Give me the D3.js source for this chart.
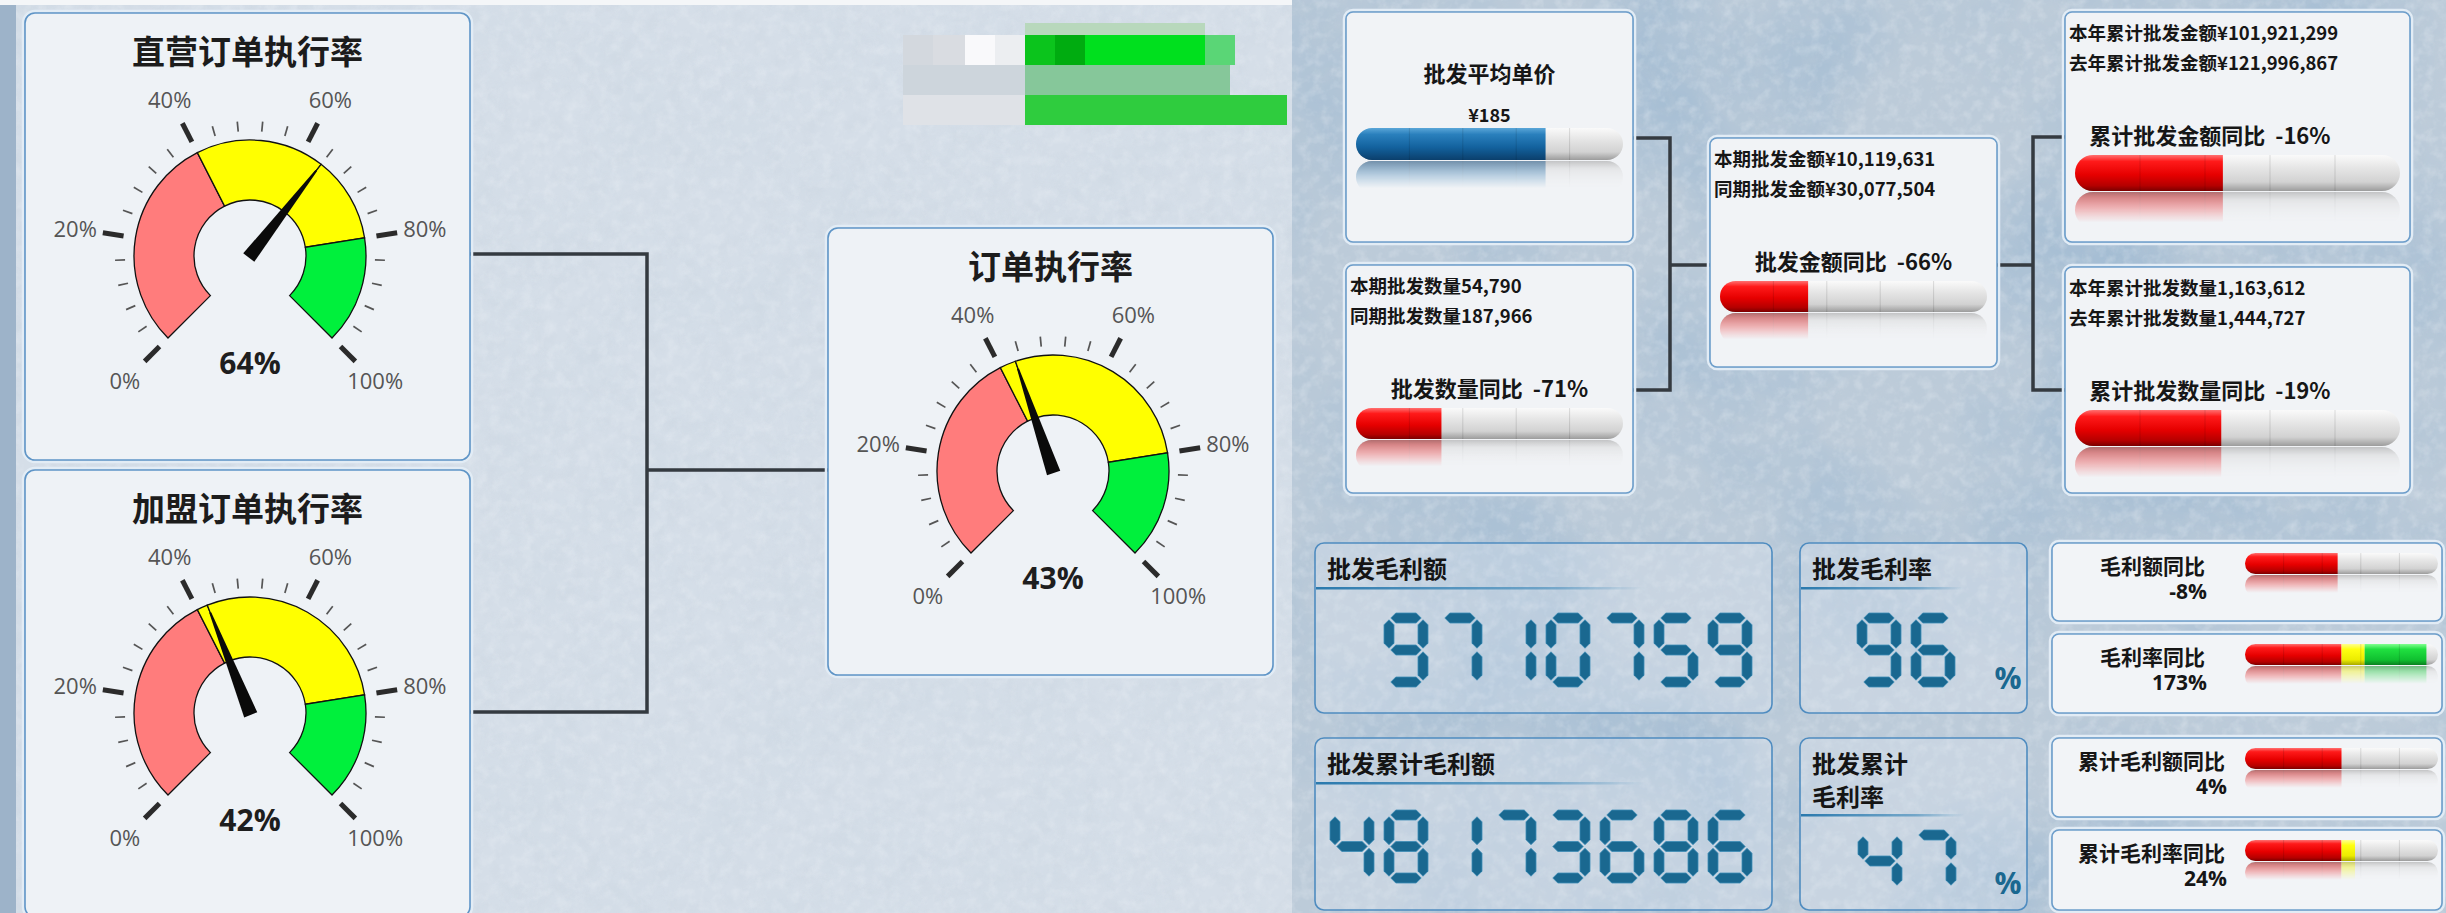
<!DOCTYPE html>
<meta charset="utf-8" />
<script src="https://d3js.org/d3.v7.min.js"></script>
<style>
  body { margin: 0; background: #cfd9e3; overflow: hidden; }
  svg { display: block; }
</style>
<div id="dash"></div>
<script>
  // ---- data ----
  const gaugeTitles = ["直营订单执行率", "加盟订单执行率", "订单执行率"];
  const gaugeValues = [64, 42, 43];
  const gaugeBands = [0, 40, 80, 100];
  const gaugeBandColors = ["#ff7c7c", "#ffff00", "#00f03c"];
  const gaugeTicks = [0, 20, 40, 60, 80, 100];

  const kpiTitles = ["批发平均单价", "批发数量同比", "批发金额同比", "累计批发金额同比", "累计批发数量同比"];
  const kpiValues = ["¥185", "-71%", "-66%", "-16%", "-19%"];
  const kpiLines = [
    [],
    ["本期批发数量54,790", "同期批发数量187,966"],
    ["本期批发金额¥10,119,631", "同期批发金额¥30,077,504"],
    ["本年累计批发金额¥101,921,299", "去年累计批发金额¥121,996,867"],
    ["本年累计批发数量1,163,612", "去年累计批发数量1,444,727"]
  ];
  const kpiBarLevels = [0.71, 0.32, 0.33, 0.455, 0.45];

  const lcdTitles = [["批发毛利额"], ["批发毛利率"], ["批发累计毛利额"], ["批发累计", "毛利率"]];
  const lcdValues = [9710759, 96, 48173686, 47];
  const lcdUnits = ["", "%", "", "%"];

  const yoyLabels = ["毛利额同比", "毛利率同比", "累计毛利额同比", "累计毛利率同比"];
  const yoyValues = ["-8%", "173%", "4%", "24%"];
  const yoyBarLevels = [0.48, 0.94, 0.5, 0.57];
  const yoyBandStops = [0, 0.5, 0.62, 1];

  // ---- page ----
  const width = 2446, height = 913;
  const cjk = '"Noto Sans CJK SC", "Noto Sans", sans-serif';
  const latin = '"Open Sans", "Noto Sans", sans-serif';

  const svg = d3.select("#dash").append("svg")
    .attr("width", width).attr("height", height);
  const defs = svg.append("defs");

  // noise filters for the paper texture
  function noise(id, freq, oct, seed, rgb, a, b) {
    const f = defs.append("filter").attr("id", id)
      .attr("x", 0).attr("y", 0).attr("width", 1).attr("height", 1);
    f.append("feTurbulence").attr("type", "fractalNoise")
      .attr("baseFrequency", freq).attr("numOctaves", oct).attr("seed", seed);
    f.append("feColorMatrix").attr("type", "matrix")
      .attr("values", `0 0 0 0 ${rgb[0]} 0 0 0 0 ${rgb[1]} 0 0 0 0 ${rgb[2]} ${a} 0 0 0 ${b}`);
  }
  noise("nzCoarse", 0.005, 4, 7, [0.36, 0.5, 0.65], 2.0, -0.8);
  noise("nzMid", 0.012, 4, 11, [0.62, 0.7, 0.78], 1.6, -0.6);
  noise("nzFine", 0.09, 3, 2, [0.95, 0.97, 0.99], 1.8, -0.8);
  noise("nzFineDark", 0.06, 3, 5, [0.55, 0.62, 0.7], 1.6, -0.7);

  function grad(id, stops, vertical = true) {
    const lg = defs.append("linearGradient").attr("id", id)
      .attr("x1", 0).attr("y1", 0).attr("x2", vertical ? 0 : 1).attr("y2", vertical ? 1 : 0);
    stops.forEach(s => lg.append("stop").attr("offset", s[0])
      .attr("stop-color", s[1]).attr("stop-opacity", s[2] === undefined ? 1 : s[2]));
  }
  grad("gRed", [[0, "#ff7070"], [0.18, "#ff1a1a"], [0.55, "#e60000"], [0.85, "#b50000"], [1, "#7a0000"]]);
  grad("gBlue", [[0, "#5aa6d8"], [0.2, "#2a80bd"], [0.6, "#13629e"], [1, "#0b3f6c"]]);
  grad("gYellow", [[0, "#ffff90"], [0.25, "#ffff10"], [0.75, "#ecec00"], [1, "#a8a800"]]);
  grad("gGreen", [[0, "#80ff90"], [0.25, "#20e040"], [0.75, "#10c030"], [1, "#0a8020"]]);
  grad("gGray", [[0, "#fafafa"], [0.35, "#e6e6e6"], [0.75, "#d2d2d2"], [1, "#9c9c9c"]]);
  grad("gUline", [[0, "#2a79ad"], [0.7, "#3a87b8", 0.6], [1, "#3a87b8", 0]], false);

  // reflection fade mask
  const rg = defs.append("linearGradient").attr("id", "gRefl")
    .attr("x1", 0).attr("y1", 1).attr("x2", 0).attr("y2", 0);
  rg.append("stop").attr("offset", 0).attr("stop-color", "#fff").attr("stop-opacity", 0.55);
  rg.append("stop").attr("offset", 0.85).attr("stop-color", "#fff").attr("stop-opacity", 0);
  defs.append("mask").attr("id", "reflMask").attr("maskContentUnits", "objectBoundingBox")
    .append("rect").attr("width", 1).attr("height", 1).attr("fill", "url(#gRefl)");

  // ---- background ----
  const bg = svg.append("g");
  bg.append("rect").attr("width", 1292).attr("height", height).attr("fill", "#d5dee8");
  bg.append("rect").attr("width", 1292).attr("height", height).attr("filter", "url(#nzMid)").attr("opacity", 0.5);
  bg.append("rect").attr("width", 1292).attr("height", height).attr("filter", "url(#nzFineDark)").attr("opacity", 0.3);
  bg.append("rect").attr("width", 1292).attr("height", height).attr("filter", "url(#nzFine)").attr("opacity", 0.25);
  bg.append("rect").attr("width", 16).attr("height", height).attr("fill", "#9db3c9");
  bg.append("rect").attr("x", 0).attr("width", 1292).attr("height", 5).attr("fill", "#f4f6f8");
  bg.append("rect").attr("x", 1292).attr("width", width - 1292).attr("height", height).attr("fill", "#bccbd9");
  bg.append("rect").attr("x", 1292).attr("width", width - 1292).attr("height", height).attr("filter", "url(#nzCoarse)");
  bg.append("rect").attr("x", 1292).attr("width", width - 1292).attr("height", height).attr("filter", "url(#nzFineDark)").attr("opacity", 0.35);
  bg.append("rect").attr("x", 1292).attr("width", width - 1292).attr("height", height).attr("filter", "url(#nzFine)").attr("opacity", 0.3);

  // blurred watermark blocks in the top middle
  const wm = [
    [903, 35, 30, 30, "#d3d8de"], [933, 35, 32, 30, "#d9dce1"], [965, 35, 30, 30, "#f9f9fb"], [995, 35, 30, 30, "#eceef1"],
    [1025, 35, 30, 30, "#0bc41c"], [1055, 35, 30, 30, "#00ac10"], [1085, 35, 120, 30, "#00e01e"], [1205, 35, 30, 30, "#5ad676"],
    [1025, 23, 180, 12, "#b8d8bc"],
    [903, 65, 122, 30, "#cdd5dc"], [1025, 65, 205, 30, "#86c79a"],
    [903, 95, 122, 30, "#dfe2e7"], [1025, 95, 262, 30, "#2fcc3e"]
  ];
  svg.append("g").selectAll("rect").data(wm).join("rect")
    .attr("x", d => d[0]).attr("y", d => d[1]).attr("width", d => d[2]).attr("height", d => d[3])
    .attr("fill", d => d[4]);

  function box(g, x, y, w, h, r, fill, stroke) {
    g.append("rect").attr("x", x - 2).attr("y", y - 2).attr("width", w + 4).attr("height", h + 4)
      .attr("rx", r + 2).attr("fill", "none").attr("stroke", "#e2ecf5").attr("stroke-width", 2.5);
    g.append("rect").attr("x", x).attr("y", y).attr("width", w).attr("height", h).attr("rx", r)
      .attr("fill", fill).attr("stroke", stroke).attr("stroke-width", 1.6);
  }

  function connector(d) {
    svg.append("path").attr("d", d).attr("fill", "none")
      .attr("stroke", "#343a40").attr("stroke-width", 3.5);
  }

  // ---- gauges ----
  const gaugeBoxes = [[25, 13], [25, 470], [828, 228]];
  const GW = 445, GH = 447;
  const angle = d3.scaleLinear().domain([0, 100]).range([-0.75 * Math.PI, 0.75 * Math.PI]);
  const rIn = 56, rOut = 116;

  connector("M470,254 H647 V712 H470 M647,470 H828");

  gaugeValues.forEach((v, i) => {
    const [px, py] = gaugeBoxes[i];
    const g = svg.append("g");
    box(g, px, py, GW, GH, 10, "#eef2f6", "#5f95c7");
    g.append("text").attr("x", px + GW / 2).attr("y", py + 51)
      .attr("text-anchor", "middle").style("font-family", cjk).style("font-weight", 700)
      .style("font-size", "33px").attr("fill", "#1c1c1c").text(gaugeTitles[i]);

    const gg = g.append("g").attr("transform", `translate(${px + 225},${py + 243})`);

    // colour bands, split where the needle points
    const edges = Array.from(new Set(gaugeBands.concat([v]))).sort((a, b) => a - b);
    const segs = d3.pairs(edges).map(([a, b]) => {
      const k = d3.bisectRight(gaugeBands, (a + b) / 2) - 1;
      return { a, b, color: gaugeBandColors[k] };
    });
    const arc = d3.arc().innerRadius(rIn).outerRadius(rOut)
      .startAngle(d => angle(d.a)).endAngle(d => angle(d.b));
    gg.selectAll("path.band").data(segs).join("path").attr("class", "band")
      .attr("d", arc).attr("fill", d => d.color).attr("stroke", "#111").attr("stroke-width", 1.3);

    // ticks
    const ticks = d3.range(0, 101, 4);
    gg.selectAll("line.tick").data(ticks).join("line").attr("class", "tick")
      .each(function (t) {
        const a = angle(t), major = t % 20 === 0;
        const r0 = major ? 128 : 125, r1 = major ? 149 : 135;
        d3.select(this)
          .attr("x1", r0 * Math.sin(a)).attr("y1", -r0 * Math.cos(a))
          .attr("x2", r1 * Math.sin(a)).attr("y2", -r1 * Math.cos(a))
          .attr("stroke", major ? "#2b2b2b" : "#555")
          .attr("stroke-width", major ? 5 : 1.7);
      });
    gg.selectAll("text.lab").data(gaugeTicks).join("text").attr("class", "lab")
      .attr("x", t => 177 * Math.sin(angle(t))).attr("y", t => -176 * Math.cos(angle(t)))
      .attr("text-anchor", "middle").attr("dominant-baseline", "central")
      .style("font-family", latin).style("font-size", "22px").attr("fill", "#555")
      .text(t => t + "%");

    // needle
    const a = angle(v);
    const ux = Math.sin(a), uy = -Math.cos(a), px2 = Math.cos(a), py2 = Math.sin(a);
    const pts = [
      [7 * px2 - 2 * ux, 7 * py2 - 2 * uy],
      [108 * ux + 1 * px2, 108 * uy + 1 * py2],
      [108 * ux - 1 * px2, 108 * uy - 1 * py2],
      [-7 * px2 - 2 * ux, -7 * py2 - 2 * uy]
    ];
    gg.append("path").attr("d", d3.line()(pts) + "Z").attr("fill", "#0a0a0a");

    gg.append("text").attr("x", 0).attr("y", 118).attr("text-anchor", "middle")
      .style("font-family", latin).style("font-weight", 700).style("font-size", "30px")
      .attr("fill", "#1e1e1e").text(v + "%");
  });

  // ---- capsule bars with reflection ----
  let clipN = 0;
  function drawBar(g, x, y, w, h, level, bands) {
    const sx = d3.scaleLinear().domain([0, 1]).range([0, w]);
    const id = "cb" + (clipN++);
    defs.append("clipPath").attr("id", id).append("rect")
      .attr("x", x).attr("y", y).attr("width", w).attr("height", h).attr("rx", h / 2);
    const paint = holder => {
      const c = holder.append("g").attr("clip-path", `url(#${id})`);
      c.append("rect").attr("x", x).attr("y", y).attr("width", w).attr("height", h).attr("fill", "url(#gGray)");
      bands.forEach(b => {
        const e = Math.min(b[1], level);
        if (e > b[0]) c.append("rect").attr("x", x + sx(b[0])).attr("y", y)
          .attr("width", sx(e) - sx(b[0])).attr("height", h).attr("fill", `url(#${b[2]})`);
      });
      c.selectAll("line").data([0.2, 0.4, 0.6, 0.8]).join("line")
        .attr("x1", t => x + sx(t)).attr("x2", t => x + sx(t)).attr("y1", y).attr("y2", y + h)
        .attr("stroke", "#000").attr("stroke-opacity", 0.12).attr("stroke-width", 1);
    };
    paint(g.append("g"));
    paint(g.append("g").attr("transform", `translate(0,${2 * (y + h) + 1}) scale(1,-1)`)
      .attr("mask", "url(#reflMask)"));
  }

  // ---- KPI panels (top right) ----
  const kpiBoxes = [[1346, 12, 287, 230], [1346, 265, 287, 228], [1710, 138, 287, 229], [2065, 12, 345, 230], [2065, 267, 345, 226]];
  connector("M1633,138 H1670 V390 H1633 M1670,265 H1710");
  connector("M1997,265 H2033 M2065,137 H2033 V390 H2065");

  kpiTitles.forEach((t, i) => {
    const [x, y, w, h] = kpiBoxes[i];
    const g = svg.append("g");
    box(g, x, y, w, h, 7, "#f1f3f6", "#6d9ecb");
    const txt = (tx, ty, s, size, anchor) => g.append("text").attr("x", tx).attr("y", ty)
      .attr("text-anchor", anchor).style("font-family", cjk).style("font-weight", 700)
      .style("font-size", size + "px").style("white-space", "pre").attr("fill", "#161616").text(s);
    if (i === 0) {
      txt(x + w / 2, y + 70, t, 22, "middle");
      txt(x + w / 2, y + 110, kpiValues[i], 18, "middle");
      drawBar(g, x + 10, y + 116, w - 20, 32, kpiBarLevels[i], [[0, 1, "gBlue"]]);
    } else {
      kpiLines[i].forEach((s, j) => txt(x + 4, y + 28 + j * 30, s, 18.5, "start"));
      txt(i > 2 ? x + w * 0.42 : x + w / 2, y + 132, t + "  " + kpiValues[i], 22, "middle");
      drawBar(g, x + 10, y + 143, w - 20, w > 300 ? 36 : 31, kpiBarLevels[i], [[0, 1, "gRed"]]);
    }
  });

  // ---- seven segment read-outs ----
  const segOn = { 0: "abcdef", 1: "bc", 2: "abdeg", 3: "abcdg", 4: "bcfg", 5: "acdfg", 6: "acdefg", 7: "abc", 8: "abcdefg", 9: "abcdfg" };
  function segShapes(W, H, t) {
    const L = t / 2, R = W - t / 2, T = t / 2, M = H / 2, B = H - t / 2, gp = 1.8, q = t / 2;
    const hz = (x0, x1, yy) => [[x0 + gp, yy], [x0 + gp + q, yy - q], [x1 - gp - q, yy - q], [x1 - gp, yy], [x1 - gp - q, yy + q], [x0 + gp + q, yy + q]];
    const vt = (xx, y0, y1) => [[xx, y0 + gp], [xx + q, y0 + gp + q], [xx + q, y1 - gp - q], [xx, y1 - gp], [xx - q, y1 - gp - q], [xx - q, y0 + gp + q]];
    return { a: hz(L, R, T), b: vt(R, T, M), c: vt(R, M, B), d: hz(L, R, B), e: vt(L, M, B), f: vt(L, T, M), g: hz(L, R, M) };
  }
  function drawDigits(g, str, xRight, yTop, H) {
    const W = 44, pitch = 54, t = 10;
    const shapes = segShapes(W, H, t);
    const chars = String(str).split("");
    chars.forEach((ch, k) => {
      const x0 = xRight - W - (chars.length - 1 - k) * pitch;
      const dg = g.append("g").attr("transform", `translate(${x0},${yTop})`);
      dg.selectAll("path").data(segOn[ch].split("")).join("path")
        .attr("d", s => d3.line()(shapes[s]) + "Z")
        .attr("fill", "#1a6890").attr("stroke", "#3d8db6").attr("stroke-width", 0.8);
    });
  }

  const lcdBoxes = [
    { x: 1315, y: 543, w: 457, h: 170, right: 1752, top: 613, dh: 74 },
    { x: 1800, y: 543, w: 227, h: 170, right: 1955, top: 613, dh: 74 },
    { x: 1315, y: 738, w: 457, h: 172, right: 1752, top: 810, dh: 73 },
    { x: 1800, y: 738, w: 227, h: 172, right: 1956, top: 830, dh: 62 }
  ];
  lcdValues.forEach((v, i) => {
    const b = lcdBoxes[i];
    const g = svg.append("g");
    g.append("rect").attr("x", b.x).attr("y", b.y).attr("width", b.w).attr("height", b.h).attr("rx", 9)
      .attr("fill", "#e4ecf4").attr("fill-opacity", 0.3).attr("stroke", "#4f8cc0").attr("stroke-width", 1.6);
    lcdTitles[i].forEach((s, j) => g.append("text").attr("x", b.x + 12).attr("y", b.y + 35 + j * 33)
      .style("font-family", cjk).style("font-weight", 700).style("font-size", "24px")
      .attr("fill", "#151515").text(s));
    const ul = b.y + 45 + (lcdTitles[i].length - 1) * 32;
    g.append("rect").attr("x", b.x + 1).attr("y", ul - 1).attr("width", b.w * 0.72).attr("height", 2.5)
      .attr("fill", "url(#gUline)");
    drawDigits(g, v, b.right, b.top, b.dh);
    if (lcdUnits[i]) g.append("text").attr("x", 2008).attr("y", b.top + b.dh + 2)
      .attr("text-anchor", "middle").style("font-family", latin).style("font-weight", 700)
      .style("font-size", "30px").attr("fill", "#1a6890").text(lcdUnits[i]);
  });

  // ---- year on year mini bars ----
  const yoyBoxes = [[543, 78, 2205], [634, 79, 2205], [738, 79, 2225], [830, 80, 2225]];
  const yoyBands = d3.pairs(yoyBandStops).map((p, k) => [p[0], p[1], ["gRed", "gYellow", "gGreen"][k]]);
  yoyLabels.forEach((s, i) => {
    const [y, h, tx] = yoyBoxes[i];
    const g = svg.append("g");
    box(g, 2052, y, 390, h, 7, "#f2f4f7", "#6d9ecb");
    g.append("text").attr("x", tx).attr("y", y + 31).attr("text-anchor", "end")
      .style("font-family", cjk).style("font-weight", 700).style("font-size", "21px")
      .attr("fill", "#161616").text(s);
    g.append("text").attr("x", tx + 2).attr("y", y + 56).attr("text-anchor", "end")
      .style("font-family", latin).style("font-weight", 700).style("font-size", "21px")
      .attr("fill", "#161616").text(yoyValues[i]);
    drawBar(g, 2245, y + 10, 193, 21, yoyBarLevels[i], yoyBands);
  });
</script>
